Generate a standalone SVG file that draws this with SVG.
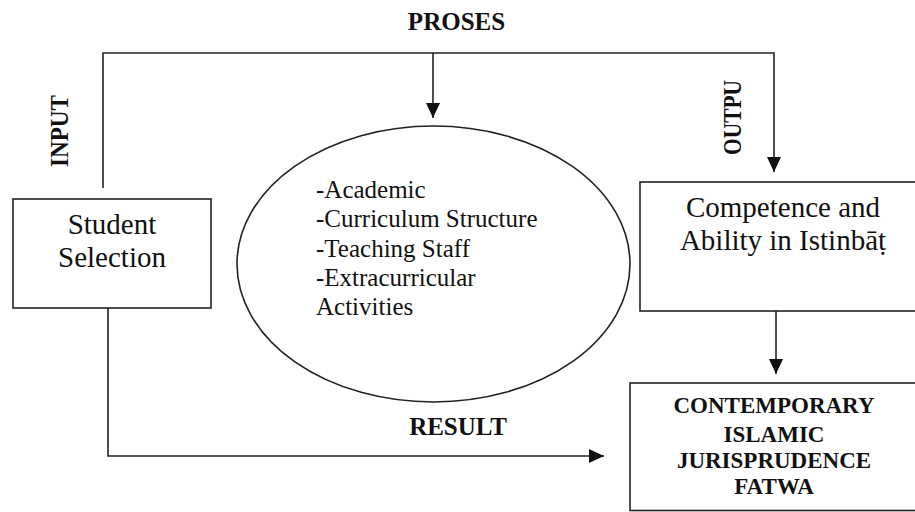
<svg xmlns="http://www.w3.org/2000/svg" width="915" height="512" viewBox="0 0 915 512">
  <style>
    .box { fill: #ffffff; stroke: #222222; stroke-width: 1.6; }
    .wire { fill: none; stroke: #222222; stroke-width: 1.6; }
    .t { font-family: "Liberation Serif", "Times New Roman", serif; fill: #111111; }
    .body { font-size: 29px; text-anchor: middle; }
    .list { font-size: 25px; }
    .lbl { font-size: 25px; font-weight: bold; text-anchor: middle; }
    .caps { font-size: 23px; font-weight: bold; text-anchor: middle; }
  </style>
  <defs>
    <marker id="arrow" viewBox="0 0 15 14" refX="15" refY="7" markerWidth="15" markerHeight="14" markerUnits="userSpaceOnUse" orient="auto">
      <path d="M0,0 L15,7 L0,14 z" fill="#111111"/>
    </marker>
  </defs>
  <rect width="915" height="512" fill="#ffffff"/>

  <!-- connectors -->
  <g id="connectors">
    <path class="wire" d="M103,188 V53 H774 V172" marker-end="url(#arrow)"/>
    <path class="wire" d="M433,53 V118" marker-end="url(#arrow)"/>
    <path class="wire" d="M108,308 V456 H604" marker-end="url(#arrow)"/>
    <path class="wire" d="M776,311 V374" marker-end="url(#arrow)"/>
  </g>

  <!-- stage labels -->
  <g id="labels">
    <text class="t lbl" x="456.5" y="30">PROSES</text>
    <text class="t lbl" transform="translate(68,131) rotate(-90)" x="0" y="0" textLength="72" lengthAdjust="spacingAndGlyphs" style="font-size:26px">INPUT</text>
    <text class="t lbl" transform="translate(741,117.5) rotate(-90)" x="0" y="0" textLength="75" lengthAdjust="spacingAndGlyphs" style="font-size:26px">OUTPU</text>
    <text class="t lbl" x="458" y="435">RESULT</text>
  </g>

  <g id="student-selection">
    <rect class="box" x="13" y="199" width="198" height="109"/>
    <text class="t body" x="112" y="234">Student</text>
    <text class="t body" x="112" y="267">Selection</text>
  </g>

  <g id="process">
    <ellipse class="box" cx="433.5" cy="264" rx="196.5" ry="138"/>
    <text class="t list" x="316" y="198">-Academic</text>
    <text class="t list" x="316" y="227">-Curriculum Structure</text>
    <text class="t list" x="316" y="256.5">-Teaching Staff</text>
    <text class="t list" x="316" y="285.5">-Extracurricular</text>
    <text class="t list" x="316" y="315">Activities</text>
  </g>

  <g id="competence">
    <rect class="box" x="640" y="182" width="290" height="129"/>
    <text class="t body" x="783" y="217">Competence and</text>
    <text class="t body" x="783" y="250">Ability in Istinbāṭ</text>
  </g>

  <g id="fatwa">
    <rect class="box" x="630" y="383" width="300" height="127.5"/>
    <text class="t caps" x="774" y="413">CONTEMPORARY</text>
    <text class="t caps" x="774" y="442">ISLAMIC</text>
    <text class="t caps" x="774" y="468">JURISPRUDENCE</text>
    <text class="t caps" x="774" y="494">FATWA</text>
  </g>
</svg>
